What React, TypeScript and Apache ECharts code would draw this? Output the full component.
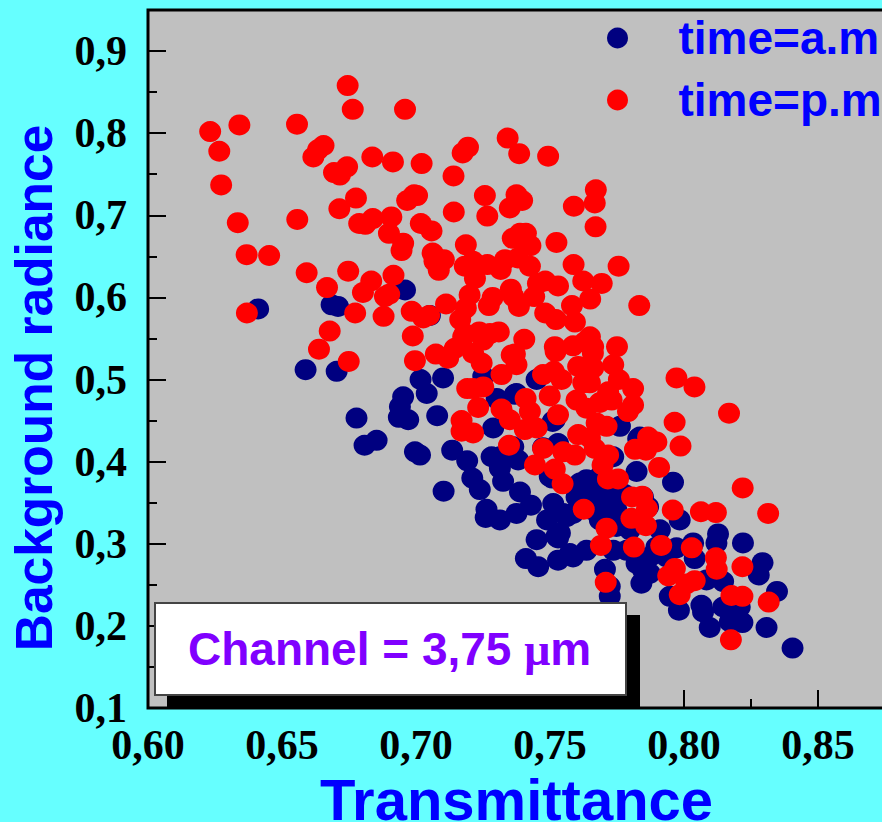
import React, { useEffect, useRef } from "react";
import * as echarts from "echarts";

const amPoints: number[][] = [
[.6411,.586],[.6685,.591],[.6709,.589],[.6959,.609],[.7052,.578],[.6588,.512],[.6704,.510],[.6778,.453],[.6853,.426],[.6808,.420],
[.6996,.412],[.7015,.408],[.7017,.500],[.7101,.502],[.6952,.479],[.694,.467],[.6936,.454],[.6971,.451],[.704,.483],[.7079,.456],
[.7135,.414],[.7191,.401],[.721,.380],[.7238,.366],[.7103,.364],[.7263,.342],[.726,.332],[.7313,.329],[.7375,.337],[.7429,.347],
[.7388,.363],[.7325,.376],[.7313,.392],[.7282,.406],[.7381,.402],[.7313,.406],[.7288,.441],[.7363,.418],[.7251,.504],[.7301,.477],
[.7375,.483],[.745,.500],[.753,.422],[.7474,.417],[.751,.449],[.7508,.380],[.7512,.349],[.7489,.329],[.745,.305],[.753,.280],
[.7586,.284],[.741,.282],[.7456,.272],[.7524,.309],[.7586,.337],[.7307,.475],[.7369,.482],[.7518,.451],[.7499,.382],[.7761,.443],
[.7829,.428],[.7823,.388],[.791,.317],[.7847,.357],[.7959,.375],[.753,.307],[.7636,.292],[.7574,.288],[.7674,.357],[.7711,.362],
[.7736,.345],[.7636,.378],[.7686,.382],[.7723,.370],[.7649,.345],[.7549,.337],[.7748,.321],[.7698,.345],[.7599,.357],[.7835,.430],
[.7866,.345],[.7984,.329],[.8127,.312],[.8121,.301],[.822,.301],[.8034,.301],[.804,.282],[.8293,.277],[.8279,.262],[.8347,.242],
[.8146,.254],[.8084,.256],[.7841,.252],[.7847,.268],[.7705,.269],[.7723,.248],[.7723,.236],[.7947,.236],[.7981,.219],[.8065,.225],
[.8071,.217],[.8096,.198],[.8146,.223],[.8171,.205],[.8218,.204],[.8208,.223],[.8308,.198],[.8405,.173],[.7736,.292],[.7786,.292],
[.7823,.276],[.7872,.284],[.7897,.296],[.7972,.295],[.7872,.264],[.7935,.284],[.7661,.366],[.7661,.341],[.7748,.341],[.7736,.406],
[.7611,.374],[.7562,.333],[.7537,.313],[.7779,.360],[.7686,.329],[.7798,.317],
];

const pmPoints: number[][] = [
[.6745,.858],[.6764,.829],[.6959,.829],[.6232,.802],[.6341,.810],[.6556,.811],[.6266,.778],[.6273,.737],[.6655,.785],[.6635,.780],
[.6617,.771],[.6837,.771],[.6914,.765],[.7021,.763],[.7194,.783],[.7174,.776],[.714,.748],[.7342,.794],[.6694,.752],[.6743,.759],
[.6716,.749],[.6776,.721],[.6714,.708],[.6335,.691],[.6557,.695],[.6993,.725],[.7004,.724],[.6967,.718],[.7257,.724],[.7141,.704],
[.7266,.699],[.6788,.690],[.6811,.689],[.6839,.696],[.6908,.698],[.6899,.678],[.7018,.690],[.7058,.681],[.6952,.666],[.6946,.657],
[.6368,.652],[.6452,.651],[.7186,.664],[.7062,.654],[.7104,.646],[.7069,.644],[.7085,.633],[.6592,.630],[.6747,.632],[.6833,.620],
[.6916,.627],[.6668,.612],[.6802,.606],[.69,.604],[.6884,.601],[.6369,.581],[.6773,.581],[.6879,.577],[.7112,.592],[.6984,.583],
[.7027,.575],[.7049,.578],[.6678,.559],[.6638,.537],[.6988,.553],[.6749,.522],[.6996,.523],[.7074,.531],[.7165,.573],[.7186,.587],
[.72,.603],[.722,.623],[.7182,.638],[.7213,.644],[.7266,.640],[.7316,.634],[.7332,.646],[.7286,.600],[.7272,.590],[.7182,.556],
[.7236,.558],[.7251,.548],[.7309,.558],[.7145,.538],[.712,.526],[.7213,.532],[.7245,.520],[.7357,.530],[.7361,.672],[.735,.709],
[.7375,.725],[.7385,.775],[.7493,.772],[.7671,.731],[.7667,.715],[.7589,.711],[.767,.686],[.7396,.718],[.7388,.678],[.741,.678],
[.7394,.670],[.7427,.663],[.7524,.667],[.7588,.640],[.7756,.638],[.738,.648],[.7425,.638],[.7624,.620],[.7693,.617],[.7482,.620],
[.7455,.617],[.753,.614],[.7354,.610],[.7441,.601],[.7363,.601],[.7384,.589],[.765,.598],[.7582,.590],[.7833,.590],[.7482,.581],
[.7522,.573],[.7593,.570],[.7276,.556],[.7404,.549],[.7649,.552],[.7518,.540],[.7586,.541],[.763,.546],[.775,.540],[.7661,.540],
[.7369,.531],[.7521,.534],[.7176,.552],[.7375,.518],[.7319,.506],[.766,.532],[.7736,.518],[.7605,.516],[.7661,.514],[.7757,.500],
[.7474,.506],[.7514,.510],[.7543,.500],[.7624,.496],[.781,.489],[.781,.469],[.7717,.485],[.7791,.461],[.7213,.489],[.7251,.491],
[.7191,.489],[.7232,.466],[.717,.450],[.717,.437],[.7213,.435],[.7319,.464],[.7409,.477],[.7499,.480],[.7425,.461],[.745,.441],
[.7406,.439],[.735,.451],[.7347,.420],[.7599,.475],[.753,.457],[.7686,.472],[.7636,.465],[.773,.475],[.7711,.443],[.7605,.433],
[.7674,.447],[.7649,.429],[.7474,.416],[.7549,.412],[.7593,.408],[.7667,.416],[.7717,.408],[.7696,.396],[.7444,.396],[.7518,.391],
[.7547,.373],[.7754,.379],[.7716,.379],[.7866,.430],[.7817,.415],[.7897,.424],[.7858,.414],[.7907,.393],[.7972,.502],[.8039,.491],
[.8168,.459],[.7965,.448],[.7987,.419],[.8219,.368],[.8314,.337],[.7958,.341],[.8063,.339],[.8119,.338],[.8029,.295],[.8119,.283],
[.8122,.269],[.8218,.272],[.7966,.270],[.7941,.261],[.804,.255],[.8009,.251],[.7984,.238],[.8177,.237],[.8218,.236],[.8316,.229],
[.8175,.183],[.7915,.298],[.7813,.296],[.769,.298],[.7711,.319],[.7626,.342],[.7708,.253],[.7858,.322],[.7804,.331],[.7862,.343],
[.7844,.358],[.7806,.357],[.7649,.496],
];

const seriesNames = ["time=a.m", "time=p.m"];
const xTitle = "Transmittance";
const yTitle = "Background radiance";
const noteText = "Channel = 3,75 {mu|\u03BC}m";

const serif = "'Liberation Serif'";
const sans = "'Liberation Sans'";

export default function App() {
  const ref = useRef<HTMLDivElement>(null);
  useEffect(() => {
    document.body.style.margin = "0";
    document.body.style.overflow = "hidden";
    const chart = echarts.init(ref.current!, null, { renderer: "svg" });
    const tickLabel = { fontFamily: serif, fontWeight: "bold", fontSize: 42, color: "#000" };
    const baseX = { type: "value", min: 0.6, max: 0.875 };
    const baseY = { type: "value", min: 0.1, max: 0.95 };
    chart.setOption({
      animation: false,
      backgroundColor: "#66ffff",
      grid: {
        show: true, left: 148, top: 10, width: 737, height: 698, outerBoundsMode: "none",
        backgroundColor: "#c0c0c0", borderColor: "#000", borderWidth: 3, containLabel: false,
      },
      legend: {
        left: 602, top: 10, orient: "vertical", icon: "circle", itemWidth: 22, itemHeight: 21, itemGap: 16,
        selectedMode: false,
        textStyle: {
          fontFamily: sans, fontWeight: "bold", fontSize: 46, lineHeight: 46, color: "#0000ff",
          padding: [0, 0, 0, 45],
        },
        data: seriesNames,
      },
      xAxis: [
        {
          ...baseX, interval: 0.05, name: xTitle, nameLocation: "middle", nameGap: 64,
          nameTextStyle: { fontFamily: sans, fontWeight: "bold", fontSize: 58, lineHeight: 50, color: "#0000ff" },
          axisLine: { show: false }, splitLine: { show: false },
          axisTick: { inside: true, length: 18, lineStyle: { color: "#000", width: 2 } },
          axisLabel: { ...tickLabel, margin: 16, showMaxLabel: false, formatter: (v: number) => v.toFixed(2).replace(".", ",") },
        },
        {
          ...baseX, interval: 0.025, position: "bottom",
          axisLine: { show: false }, splitLine: { show: false }, axisLabel: { show: false },
          axisTick: { inside: true, length: 9, lineStyle: { color: "#000", width: 2 } },
        },
      ],
      yAxis: [
        {
          ...baseY, interval: 0.1, name: yTitle, nameLocation: "middle", nameGap: 88,
          nameTextStyle: { fontFamily: sans, fontWeight: "bold", fontSize: 51.5, color: "#0000ff", padding: [0, 58, 0, 0] },
          axisLine: { show: false }, splitLine: { show: false },
          axisTick: { inside: true, length: 18, lineStyle: { color: "#000", width: 2 } },
          axisLabel: { ...tickLabel, margin: 21, showMaxLabel: false, formatter: (v: number) => v.toFixed(1).replace(".", ",") },
        },
        {
          ...baseY, interval: 0.05, position: "left",
          axisLine: { show: false }, splitLine: { show: false }, axisLabel: { show: false },
          axisTick: { inside: true, length: 9, lineStyle: { color: "#000", width: 2 } },
        },
      ],
      series: [
        { name: seriesNames[0], type: "scatter", data: amPoints, symbol: "circle", symbolSize: [22, 21], itemStyle: { color: "#000080", opacity: 1 }, z: 3 },
        { name: seriesNames[1], type: "scatter", data: pmPoints, symbol: "circle", symbolSize: [22, 21], itemStyle: { color: "#ff0000", opacity: 1 }, z: 4 },
      ],
      graphic: [
        { type: "rect", z: 100, shape: { x: 167, y: 615, width: 473, height: 93 }, style: { fill: "#000" } },
        { type: "rect", z: 101, shape: { x: 155, y: 603, width: 471, height: 92 }, style: { fill: "#fff", stroke: "#444", lineWidth: 2 } },
        {
          type: "text", z: 102, x: 188, y: 626,
          style: {
            text: noteText, fill: "#8000ff", fontFamily: sans, fontWeight: "bold", fontSize: 46,
            rich: { mu: { fontFamily: serif, fontWeight: "bold", fontSize: 46, fill: "#8000ff" } },
          },
        },
      ],
    });
    return () => chart.dispose();
  }, []);
  return <div ref={ref} style={{ width: 882, height: 822 }} />;
}
